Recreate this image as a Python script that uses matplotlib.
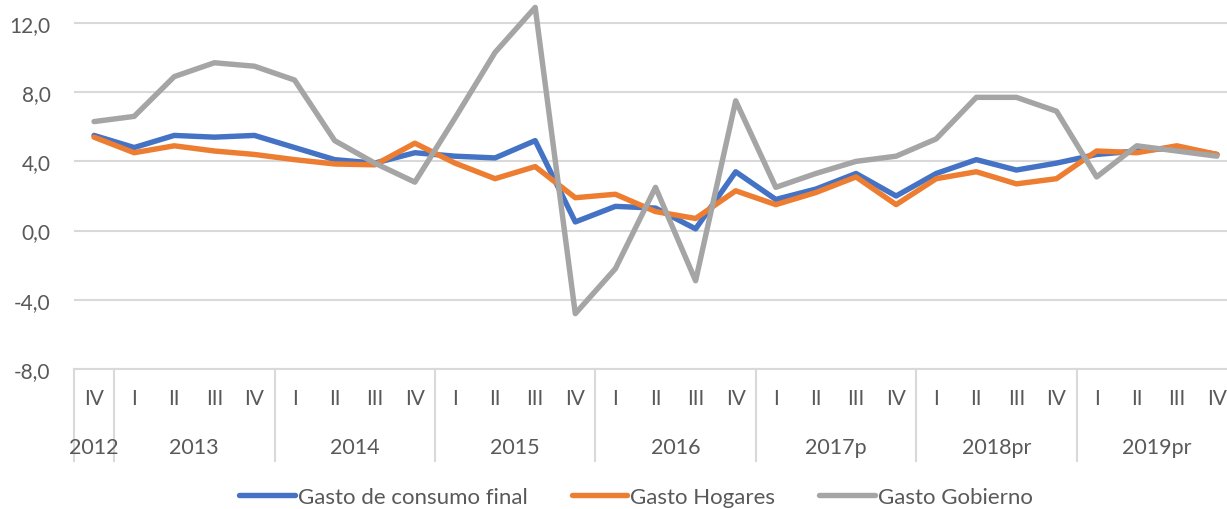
import numpy as np
import matplotlib
matplotlib.use("Agg")
import matplotlib.pyplot as plt
import matplotlib.transforms as mtransforms

plt.rcParams['font.family'] = ['Lato', 'DejaVu Sans']

# Data
quarters = ['IV'] + ['I', 'II', 'III', 'IV'] * 7
years = ['2012', '2013', '2014', '2015', '2016', '2017p', '2018pr', '2019pr']
year_len = [1, 4, 4, 4, 4, 4, 4, 4]

consumo_final = [5.5, 4.8, 5.5, 5.4, 5.5, 4.8, 4.1, 3.9, 4.5, 4.3, 4.2, 5.2, 0.5, 1.4,
                 1.3, 0.1, 3.4, 1.8, 2.4, 3.3, 2.0, 3.3, 4.1, 3.5, 3.9, 4.4, 4.6, 4.8, 4.4]
hogares = [5.4, 4.5, 4.9, 4.6, 4.4, 4.1, 3.85, 3.8, 5.05, 3.9, 3.0, 3.7, 1.9, 2.1,
           1.1, 0.7, 2.3, 1.5, 2.2, 3.1, 1.5, 3.0, 3.4, 2.7, 3.0, 4.6, 4.5, 4.9, 4.4]
gobierno = [6.3, 6.6, 8.9, 9.7, 9.5, 8.7, 5.2, 3.9, 2.8, 6.5, 10.3, 12.9, -4.8, -2.2,
            2.5, -2.9, 7.5, 2.5, 3.3, 4.0, 4.3, 5.3, 7.7, 7.7, 6.9, 3.1, 4.9, 4.6, 4.3]

W, H = 1227, 510
fig = plt.figure(figsize=(W / 100, H / 100), dpi=100)
left, right, bottom, top = 74, 1237, 370, 0
ax = fig.add_axes([left / W, (H - bottom) / H, (right - left) / W, (bottom - top) / H])

x = np.arange(len(quarters))
text_color = '#595959'
grid_color = '#D9D9D9'
lw = 3.9
ax.plot(x, consumo_final, color='#4472C4', lw=lw, solid_capstyle='round',
        solid_joinstyle='round', label='Gasto de consumo final', zorder=3)
ax.plot(x, hogares, color='#ED7D31', lw=lw, solid_capstyle='round',
        solid_joinstyle='round', label='Gasto Hogares', zorder=4)
ax.plot(x, gobierno, color='#A5A5A5', lw=lw, solid_capstyle='round',
        solid_joinstyle='round', label='Gasto Gobierno', zorder=5)

ax.set_xlim(-0.5, len(quarters) - 0.5)
ax.set_ylim(-8, 12 + 24 / 17.33)
yt = [-8, -4, 0, 4, 8, 12]
ax.set_yticks(yt, [f'{v:.1f}'.replace('.', ',') for v in yt])
ax.grid(axis='y', color=grid_color, lw=1.5, zorder=0)
for s in ['top', 'right', 'left']:
    ax.spines[s].set_visible(False)
ax.spines['bottom'].set_color(grid_color)
ax.spines['bottom'].set_linewidth(1.5)
ax.tick_params(axis='y', length=0, pad=17, labelsize=15, labelcolor=text_color)
ax.set_xticks(x, quarters)
ax.tick_params(axis='x', length=0, pad=14, labelsize=15, labelcolor=text_color)

# multi-level category axis
trans = mtransforms.blended_transform_factory(ax.transData, ax.transAxes)
sep_bottom = -(462 - 370) / 370
start = 0
bounds = [-0.5]
for yr, n in zip(years, year_len):
    ax.text(start + (n - 1) / 2, -(448 - 370) / 370, yr, transform=trans,
            ha='center', va='center', fontsize=15.5, color=text_color)
    start += n
    bounds.append(start - 0.5)
for b in bounds:
    ax.plot([b, b], [0, sep_bottom], transform=trans, color=grid_color,
            lw=1.5, clip_on=False)

ax.legend(loc='center', bbox_to_anchor=(636 / W, (H - 498) / H),
          bbox_transform=fig.transFigure, ncol=3, frameon=False,
          fontsize=16, handlelength=2.5, handletextpad=0.12, columnspacing=2.0,
          labelcolor=text_color)

fig.savefig('out.png', dpi=100)
